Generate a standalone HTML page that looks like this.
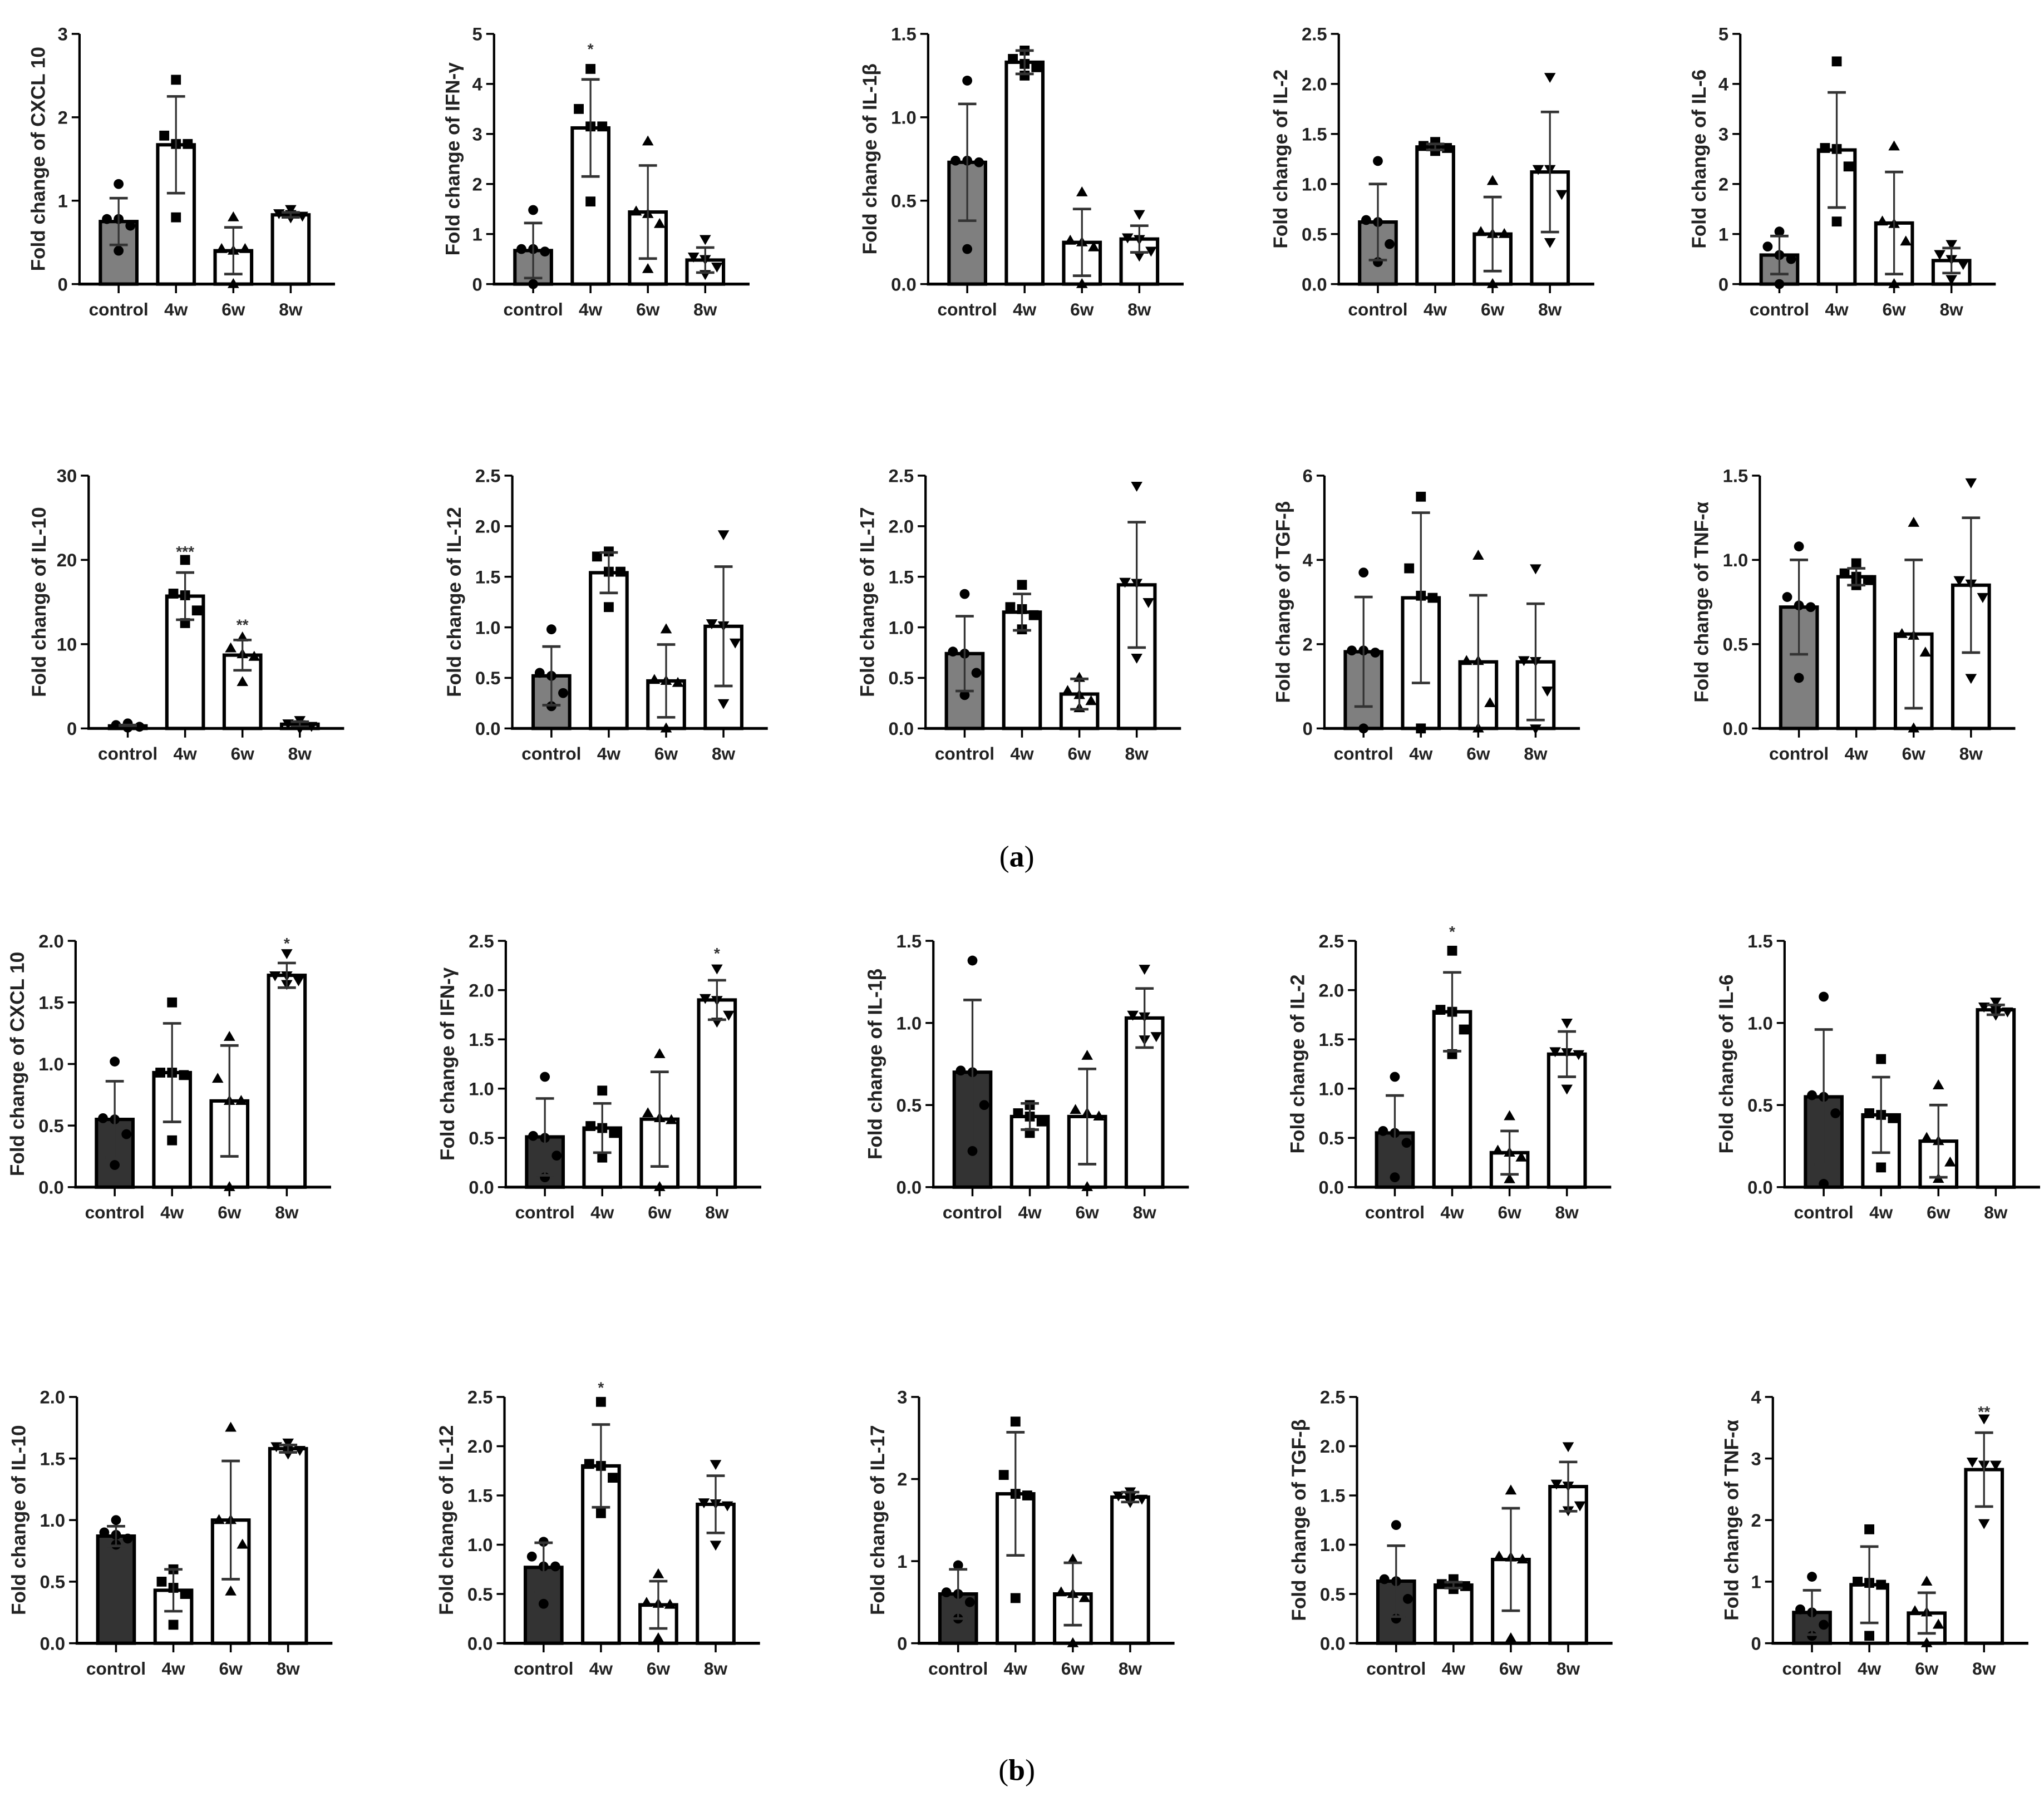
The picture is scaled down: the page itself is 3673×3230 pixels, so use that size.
<!DOCTYPE html>
<html><head><meta charset="utf-8"><title>Cytokine fold change charts</title>
<style>
html,body{margin:0;padding:0;background:#fff;}
svg{display:block;}
text{font-family:"Liberation Sans",Arial,sans-serif;}
</style></head>
<body>
<svg id="fig" xmlns="http://www.w3.org/2000/svg" width="3673" height="3230" viewBox="0 0 1568 1379" preserveAspectRatio="none">
<rect x="0" y="0" width="1568" height="1379" fill="#fff"/>
<text x="780" y="665" text-anchor="middle" font-size="23" style="font-family:'Liberation Serif',serif">(<tspan font-weight="bold">a</tspan>)</text>
<text x="780" y="1366" text-anchor="middle" font-size="23" style="font-family:'Liberation Serif',serif">(<tspan font-weight="bold">b</tspan>)</text>
</svg>
<script>
const categories = ["control","4w","6w","8w"];
const titles = ["CXCL 10","IFN-γ","IL-1β","IL-2","IL-6",
  "IL-10","IL-12","IL-17","TGF-β","TNF-α",
  "CXCL 10","IFN-γ","IL-1β","IL-2","IL-6",
  "IL-10","IL-12","IL-17","TGF-β","TNF-α"];
const yMaxes = [3,5,1.5,2.5,5, 30,2.5,2.5,6,1.5, 2.0,2.5,1.5,2.5,1.5, 2.0,2.5,3,2.5,4];
const ySteps = [1,1,0.5,0.5,1, 10,0.5,0.5,2,0.5, 0.5,0.5,0.5,0.5,0.5, 0.5,0.5,1,0.5,1];
const means = [
 [0.75,1.67,0.4,0.83],[0.67,3.12,1.44,0.48],[0.73,1.33,0.25,0.27],[0.62,1.37,0.5,1.12],[0.58,2.68,1.22,0.47],
 [0.3,15.7,8.7,0.5],[0.52,1.54,0.47,1.01],[0.74,1.15,0.34,1.42],[1.82,3.1,1.58,1.58],[0.72,0.9,0.56,0.85],
 [0.55,0.93,0.7,1.72],[0.51,0.6,0.69,1.9],[0.7,0.43,0.43,1.03],[0.55,1.78,0.35,1.35],[0.55,0.44,0.28,1.08],
 [0.87,0.43,1.0,1.58],[0.77,1.8,0.39,1.41],[0.6,1.82,0.6,1.78],[0.63,0.59,0.85,1.59],[0.5,0.95,0.49,2.82]];
const sds = [
 [0.28,0.58,0.28,0.03],[0.55,0.97,0.93,0.25],[0.35,0.07,0.2,0.08],[0.38,0.03,0.37,0.6],[0.38,1.15,1.02,0.25],
 [0.1,2.8,1.8,0.3],[0.29,0.2,0.36,0.59],[0.37,0.18,0.15,0.62],[1.3,2.02,1.58,1.38],[0.28,0.05,0.44,0.4],
 [0.31,0.4,0.45,0.1],[0.39,0.25,0.48,0.2],[0.44,0.08,0.29,0.18],[0.38,0.4,0.22,0.23],[0.41,0.23,0.22,0.03],
 [0.08,0.17,0.48,0.03],[0.25,0.42,0.24,0.29],[0.3,0.75,0.38,0.06],[0.36,0.03,0.52,0.25],[0.36,0.62,0.33,0.6]];
const points = [
 [[1.2,0.78,0.78,0.7,0.4],[2.45,1.78,1.68,1.68,0.8],[0.8,0.42,0.4,0.42,0.0],[0.9,0.85,0.84,0.82,0.8]],
 [[1.48,0.7,0.7,0.65,0.0],[4.3,3.5,3.15,3.15,1.65],[2.85,1.45,1.4,1.2,0.3],[0.9,0.55,0.5,0.35,0.2]],
 [[1.22,0.74,0.74,0.73,0.21],[1.4,1.35,1.32,1.3,1.25],[0.55,0.26,0.25,0.22,0.0],[0.42,0.28,0.27,0.2,0.17]],
 [[1.23,0.64,0.62,0.4,0.22],[1.42,1.38,1.37,1.36,1.33],[1.03,0.52,0.5,0.5,0.0],[2.07,1.15,1.15,0.9,0.42]],
 [[1.05,0.75,0.58,0.5,0.0],[4.45,2.72,2.7,2.35,1.25],[2.75,1.25,1.2,0.85,0.0],[0.8,0.6,0.5,0.4,0.1]],
 [[0.6,0.4,0.3,0.2,0.1],[20,16,15.8,14,12.5],[10.8,9.5,8.8,8.5,5.5],[1.0,0.6,0.5,0.3,0.0]],
 [[0.98,0.55,0.52,0.35,0.22],[1.75,1.7,1.55,1.55,1.2],[0.98,0.48,0.47,0.45,0.0],[1.92,1.04,1.02,0.85,0.25]],
 [[1.33,0.76,0.74,0.55,0.33],[1.42,1.2,1.18,1.12,0.98],[0.5,0.37,0.33,0.27,0.2],[2.4,1.45,1.44,1.25,0.7]],
 [[3.7,1.85,1.85,1.8,0.0],[5.5,3.8,3.15,3.1,0.0],[4.1,1.6,1.6,0.6,0.0],[3.8,1.62,1.6,0.9,0.0]],
 [[1.08,0.78,0.73,0.72,0.3],[0.98,0.92,0.9,0.88,0.85],[1.22,0.56,0.55,0.45,0.0],[1.46,0.88,0.86,0.78,0.3]],
 [[1.02,0.56,0.55,0.43,0.18],[1.5,0.93,0.93,0.91,0.38],[1.22,0.88,0.7,0.7,0.0],[1.9,1.72,1.72,1.68,1.65]],
 [[1.12,0.52,0.5,0.32,0.1],[0.98,0.62,0.6,0.55,0.3],[1.35,0.75,0.7,0.68,0.0],[2.22,1.92,1.9,1.75,1.68]],
 [[1.38,0.71,0.7,0.5,0.22],[0.5,0.45,0.43,0.4,0.33],[0.8,0.47,0.45,0.43,0.0],[1.33,1.05,1.04,0.92,0.9]],
 [[1.12,0.57,0.55,0.45,0.1],[2.4,1.8,1.78,1.6,1.35],[0.72,0.37,0.35,0.3,0.08],[1.67,1.38,1.37,1.35,1.0]],
 [[1.16,0.56,0.55,0.45,0.02],[0.78,0.45,0.44,0.42,0.12],[0.62,0.3,0.28,0.15,0.05],[1.13,1.1,1.08,1.07,1.05]],
 [[1.0,0.9,0.88,0.85,0.8],[0.6,0.5,0.45,0.4,0.15],[1.75,1.0,1.0,0.8,0.42],[1.63,1.6,1.58,1.57,1.54]],
 [[1.03,0.88,0.78,0.78,0.4],[2.45,1.82,1.8,1.68,1.32],[0.7,0.41,0.4,0.39,0.05],[1.82,1.43,1.42,1.4,1.0]],
 [[0.95,0.62,0.6,0.5,0.3],[2.7,2.05,1.82,1.8,0.55],[1.02,0.62,0.6,0.55,0.0],[1.85,1.8,1.78,1.76,1.72]],
 [[1.2,0.65,0.63,0.45,0.25],[0.65,0.6,0.59,0.58,0.55],[1.55,0.88,0.87,0.85,0.05],[2.0,1.62,1.6,1.4,1.35]],
 [[1.08,0.55,0.5,0.3,0.12],[1.85,1.0,0.98,0.95,0.12],[1.0,0.52,0.5,0.3,0.0],[3.65,2.95,2.9,2.9,1.95]]];
const sigLabels = [
 ["","","",""],["","*","",""],["","","",""],["","","",""],["","","",""],
 ["","***","**",""],["","","",""],["","","",""],["","","",""],["","","",""],
 ["","","","*"],["","","","*"],["","","",""],["","*","",""],["","","",""],
 ["","","",""],["","*","",""],["","","",""],["","","",""],["","","","**"]];
const sigValues = [
 [0,0,0,0],[0,4.75,0,0],[0,0,0,0],[0,0,0,0],[0,0,0,0],
 [0,21.3,12.6,0],[0,0,0,0],[0,0,0,0],[0,0,0,0],[0,0,0,0],
 [0,0,0,2.0],[0,0,0,2.4],[0,0,0,0],[0,2.62,0,0],[0,0,0,0],
 [0,0,0,0],[0,2.62,0,0],[0,0,0,0],[0,0,0,0],[0,0,0,3.8]];

/* layout (not data) */
const rowTop = [26,365,722,1072];
const rowZero = [218,559,911,1261];
const colAxisX = [[61,379,712,1027,1335],[68,393,710,1016,1350],[58,388,716,1040,1369],[59,387,705,1041,1360]];

const NS = "http://www.w3.org/2000/svg";
const svg = document.getElementById("fig");
function mk(tag, attrs, parent){
  const e = document.createElementNS(NS, tag);
  for (const k in attrs) e.setAttribute(k, attrs[k]);
  (parent||svg).appendChild(e);
  return e;
}
function fmt(v, step){ return step < 1 ? v.toFixed(1) : String(Math.round(v)); }
function marker(g, shape, x, y){
  const s = 3.8;
  let e;
  if (shape === 0) e = mk("circle", {cx:x, cy:y, r:s, fill:"#000"}, g);
  else if (shape === 1) e = mk("rect", {x:x-s, y:y-s, width:2*s, height:2*s, fill:"#000"}, g);
  else if (shape === 2) e = mk("polygon", {points:`${x},${y-s-0.8} ${x-s-0.6},${y+s*0.8} ${x+s+0.6},${y+s*0.8}`, fill:"#000"}, g);
  else e = mk("polygon", {points:`${x},${y+s+0.8} ${x-s-0.6},${y-s*0.8} ${x+s+0.6},${y-s*0.8}`, fill:"#000"}, g);
  return e;
}
const jitter = [0,-9,0,9,0];

for (let p = 0; p < 20; p++){
  const row = Math.floor(p/5), col = p%5;
  const x0 = colAxisX[row][col], top = rowTop[row], zero = rowZero[row];
  const ymax = yMaxes[p], step = ySteps[p];
  const yS = v => zero - v/ymax*(zero-top);
  const xS = i => x0 + 30 + 44*i;
  const g = mk("g", {});
  
  

  for (let i = 0; i < 4; i++){
    const yv = yS(means[p][i]);
    const fill = i===0 ? (row<2 ? "#7f7f7f" : "#333333") : "#ffffff";
    const b = mk("rect", {x:xS(i)-14, y:yv, width:28, height:zero-yv, fill:fill, stroke:"#000", "stroke-width":2.6}, g);
    
    
  }
  for (let i = 0; i < 4; i++){
    const pts = points[p][i];
    for (let k = 0; k < pts.length; k++){
      const m = marker(g, i, xS(i)+jitter[k], yS(pts[k]));
      
      
    }
  }
  for (let i = 0; i < 4; i++){
    const m = means[p][i], s = sds[p][i], cx = xS(i);
    const lo = Math.max(m - s, 0);
    const eg = mk("g", {stroke:"#333", "stroke-width":1.4}, g);
    
    
    mk("line", {x1:cx, x2:cx, y1:yS(lo), y2:yS(m+s)}, eg);
    mk("line", {x1:cx-7, x2:cx+7, y1:yS(m+s), y2:yS(m+s), "stroke-width":2}, eg);
    mk("line", {x1:cx-7, x2:cx+7, y1:yS(m-s), y2:yS(m-s), "stroke-width":2}, eg);
  }
  const ya = mk("line", {x1:x0, x2:x0, y1:top, y2:zero, stroke:"#000", "stroke-width":1.8}, g);
  
  
  const xa = mk("line", {x1:x0-1, x2:x0+196, y1:zero, y2:zero, stroke:"#000", "stroke-width":2.2}, g);
  
  
  const nT = Math.round(ymax/step);
  let maxChars = 1;
  for (let t = 0; t <= nT; t++){
    const v = t*step, yy = yS(v);
    mk("line", {x1:x0-6, x2:x0, y1:yy, y2:yy, stroke:"#000", "stroke-width":1.5}, g);
    const tl = mk("text", {x:x0-9, y:yy+5, "text-anchor":"end", "font-size":14, "font-weight":"bold", fill:"#222"}, g);
    tl.textContent = fmt(v, step);
    maxChars = Math.max(maxChars, tl.textContent.length);
    
    
  }
  for (let i = 0; i < 4; i++){
    mk("line", {x1:xS(i), x2:xS(i), y1:zero, y2:zero+7, stroke:"#000", "stroke-width":1.5}, g);
    const xl = mk("text", {x:xS(i), y:zero+24, "text-anchor":"middle", "font-size":13.5, "font-weight":"bold", fill:"#222"}, g);
    xl.textContent = categories[i];
    
    
  }
  const ty = (top+zero)/2, tx = x0 - (25 + 6.5*maxChars);
  const tt = mk("text", {x:tx, y:ty, transform:`rotate(-90 ${tx} ${ty})`, "text-anchor":"middle", "dominant-baseline":"central", "font-size":15, "font-weight":"bold", fill:"#222"}, g);
  tt.textContent = "Fold change of " + titles[p];
  
  
  for (let i = 0; i < 4; i++){
    if (!sigLabels[p][i]) continue;
    const st = mk("text", {x:xS(i), y:yS(sigValues[p][i])+6, "text-anchor":"middle", "font-size":12, "font-weight":"bold", fill:"#333"}, g);
    st.textContent = sigLabels[p][i];
    
    
  }
}
</script>
</body></html>
